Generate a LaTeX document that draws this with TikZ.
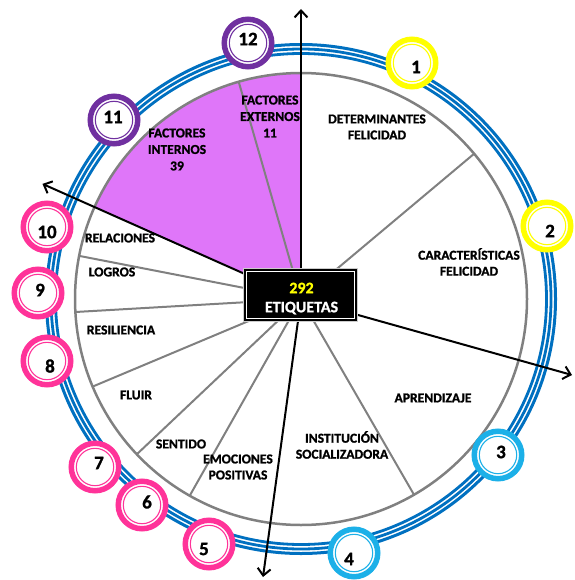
\documentclass[tikz,border=0pt]{standalone}
\usepackage{fontspec}
\setmainfont{Carlito}
\newfontfamily\heavy{Carlito}[UprightFont={* Bold}, FakeBold=1.2]
\usetikzlibrary{arrows.meta,calc}
\definecolor{ringblue}{RGB}{0,112,192}
\definecolor{purp}{RGB}{223,118,249}
\definecolor{spokegray}{RGB}{128,128,128}
\definecolor{yel}{RGB}{255,255,0}
\definecolor{cyanb}{RGB}{28,176,232}
\definecolor{pinkc}{RGB}{255,51,153}
\definecolor{violetc}{RGB}{112,48,160}
\begin{document}
\begin{tikzpicture}[x=1pt,y=-1pt,
  lbl/.style={font=\heavy\fontsize{13.6}{16}\selectfont, align=center, inner sep=0pt},
  numc/.style={circle, draw=#1, line width=5.5pt, fill=white, minimum size=47.5pt, inner sep=0pt},
  numt/.style={font=\heavy\fontsize{19}{19}\selectfont, inner sep=0pt},
  spoke/.style={draw=spokegray, line width=2pt},
  axisarrow/.style={draw=black, line width=2pt, -{Straight Barb[length=7pt,width=13pt,line width=2pt]}},
  ringline/.style={draw=ringblue, line width=#1}]
\useasboundingbox (0,0) rectangle (574,580);
\coordinate (c) at (301,299);
% blue rings
\draw[ringline=3pt] (c) circle[radius=254.5];
\draw[ringline=2.8pt] (c) circle[radius=250];
\draw[ringline=2.8pt] (c) circle[radius=245.5];
% purple sector
\fill[purp] (c) -- ++(-90:226) arc[start angle=-90,end angle=-156,radius=226] -- cycle;
% spokes
\foreach \a in {106,169,183.3,202.8,223.4,240.5,300,40}
  \draw[spoke] (c) -- ++(-\a:226);
\draw[draw=spokegray, line width=2.5pt] (c) circle[radius=226];
% axes
\coordinate (tN) at (301,9);
\coordinate (tW) at ($(c)+(-156:283)$);
\coordinate (tS) at (263,577);
\coordinate (tE) at (572,375);
\draw[axisarrow] (c) -- (tN);
\draw[axisarrow] (c) -- (tW);
\draw[axisarrow] (c) -- (tS);
\draw[axisarrow] (c) -- (tE);
% centre box
\node[fill=black, draw=gray!40, line width=1pt, minimum width=114pt, minimum height=53pt] (box) at (300.5,295) {};
\draw[white, line width=0.9pt] ($(box.south west)+(3.5,-3.5)$) rectangle ($(box.north east)+(-3.5,3.5)$);
\node[text=yel, font=\heavy\fontsize{16}{16}\selectfont, inner sep=0pt] (n292) at (301.5,288) {292};
\node[text=white, font=\heavy\fontsize{16}{16}\selectfont, inner sep=0pt] (etq) at (301.5,308) {ETIQUETAS};
% labels
\node[lbl] (det) at (377,127) {DETERMINANTES\\FELICIDAD};
\node[lbl] (car) at (469,262) {CARACTERÍSTICAS\\FELICIDAD};
\node[lbl] (apr) at (433,398) {APRENDIZAJE};
\node[lbl] (ins) at (342,445) {INSTITUCIÓN\\SOCIALIZADORA};
\node[lbl] (emo) at (238,467) {EMOCIONES\\POSITIVAS};
\node[lbl] (sen) at (181,444) {SENTIDO};
\node[lbl] (flu) at (136,395) {FLUIR};
\node[lbl] (res) at (121,330) {RESILIENCIA};
\node[lbl] (log) at (112,272) {LOGROS};
\node[lbl] (rel) at (120,238) {RELACIONES};
\node[lbl, font=\heavy\fontsize{13.6}{16.5}\selectfont] (fint) at (177,149.5) {FACTORES\\INTERNOS\\39};
\node[lbl, font=\heavy\fontsize{13.6}{16.5}\selectfont] (fext) at (270,116.5) {FACTORES\\EXTERNOS\\11};
% numbered circles
\foreach \i/\x/\y/\col/\tx/\ty in {1/412/63/yel/416/67, 2/547/226/yel/550/231,
   3/498/455/cyanb/501/452, 4/354/553/cyanb/349/559, 5/209/544/pinkc/204/549,
   6/142/505/pinkc/147/502, 7/95/467/pinkc/99/463, 8/47/361/pinkc/50/366,
   9/38/293/pinkc/40/290, 10/47/227/pinkc/47/232, 11/114/120/violetc/113/117,
   12/248/43/violetc/248/39} {
  \node[numc=\col] (c\i) at (\x,\y) {};
  \draw[\col, line width=1.1pt] (c\i.center) circle[radius=18.7];
  \node[numt] (t\i) at (\tx,\ty) {\i};
}
\end{tikzpicture}
\end{document}
